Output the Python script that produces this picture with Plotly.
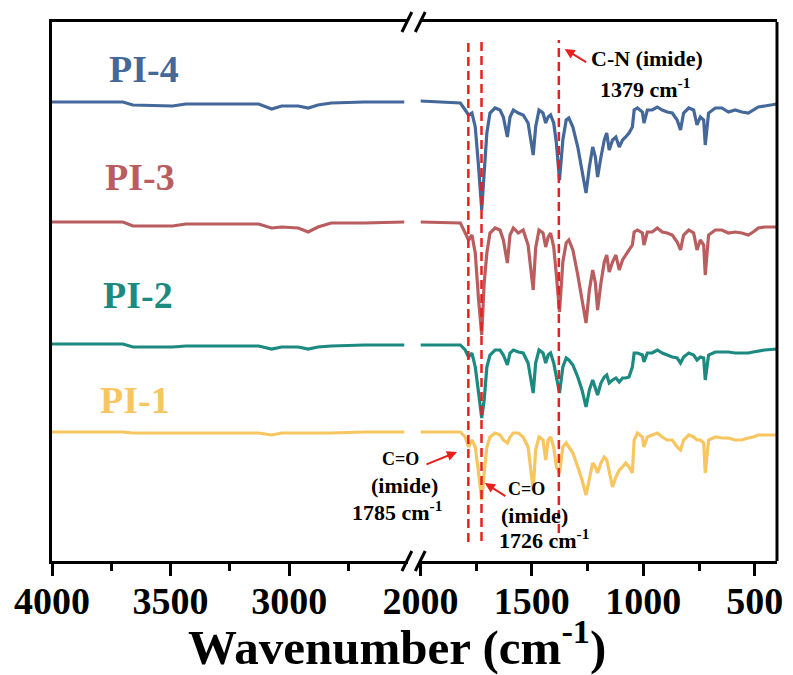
import plotly.graph_objects as go

# ---------------- data ----------------
# high-wavenumber window (left panel, cm^-1)
WN_HIGH = [4000, 3701, 3659, 3492, 3436, 3129, 3074, 3032, 2962, 2920, 2879, 2823, 2683, 2544, 2515]
PI4_HIGH = [459, 459, 456, 455, 457, 457, 452, 455, 455, 453, 456, 458, 459, 459, 459]
PI3_HIGH = [339, 339, 335, 335, 337, 337, 333, 334, 333, 329, 334, 338, 338, 339, 339]
PI2_HIGH = [217, 217, 214, 214, 215, 215, 212, 214, 214, 212, 214, 215, 216, 216, 216]
PI1_HIGH = [129, 129, 128, 128, 128, 128, 126, 128, 128, 128, 128, 128, 129, 129, 129]

# fingerprint window (right panel, cm^-1)
WN_LOW = [2000, 1821, 1799, 1784, 1769, 1754, 1739, 1725, 1714, 1702,
          1688, 1665, 1643, 1628, 1610, 1598, 1583, 1561, 1539, 1517,
          1494, 1483, 1468, 1450, 1438, 1427, 1416, 1402, 1390, 1376,
          1361, 1346, 1334, 1316, 1294, 1275, 1257, 1242, 1227, 1215,
          1205, 1190, 1175, 1164, 1153, 1138, 1123, 1108, 1093, 1079,
          1064, 1049, 1041, 1026, 1004, 997, 982, 960, 937, 915,
          893, 870, 848, 833, 819, 796, 774, 759, 744, 729,
          722, 707, 677, 647, 618, 588, 558, 529, 507, 484,
          455, 400]
PI4_LOW = [460, 458, 451, 446, 448, 434, 394, 351, 388, 428,
           448, 453, 451, 444, 424, 444, 451, 448, 446, 438,
           406, 434, 451, 448, 438, 444, 446, 438, 418, 381,
           421, 441, 443, 434, 414, 391, 368, 394, 414, 404,
           384, 404, 421, 428, 411, 421, 424, 414, 421, 424,
           428, 434, 451, 453, 449, 438, 451, 451, 454, 451,
           449, 448, 441, 431, 448, 453, 451, 436, 444, 441,
           416, 448, 453, 453, 449, 451, 449, 448, 451, 454,
           455, 457]
PI3_LOW = [339, 338, 328, 321, 326, 308, 261, 226, 278, 308,
           328, 333, 331, 321, 298, 326, 333, 328, 331, 316,
           271, 313, 331, 328, 314, 324, 328, 314, 286, 249,
           299, 318, 321, 311, 286, 261, 238, 271, 291, 278,
           251, 278, 299, 306, 289, 299, 306, 291, 301, 306,
           311, 316, 329, 331, 328, 316, 329, 329, 333, 329,
           328, 326, 319, 311, 326, 331, 328, 311, 321, 316,
           286, 326, 331, 331, 328, 329, 328, 326, 329, 333,
           334, 334]
PI2_LOW = [216, 216, 211, 204, 208, 194, 168, 143, 161, 194,
           206, 211, 211, 206, 196, 208, 211, 209, 208, 198,
           168, 198, 211, 208, 198, 206, 208, 198, 184, 168,
           194, 203, 201, 196, 184, 171, 154, 171, 181, 174,
           166, 178, 184, 186, 178, 181, 183, 179, 183, 183,
           184, 194, 208, 208, 206, 199, 208, 208, 211, 208,
           206, 204, 203, 198, 204, 208, 206, 201, 204, 203,
           181, 206, 209, 209, 209, 208, 208, 208, 209, 210,
           211, 212]
PI1_LOW = [129, 129, 124, 114, 121, 114, 88, 61, 88, 114,
           124, 128, 126, 121, 118, 124, 128, 128, 124, 114,
           71, 111, 124, 121, 101, 121, 124, 114, 94, 88,
           114, 118, 114, 108, 94, 81, 66, 81, 98, 94,
           88, 98, 104, 101, 88, 74, 84, 91, 94, 98,
           94, 88, 121, 128, 124, 114, 124, 126, 128, 124,
           121, 121, 114, 111, 121, 126, 124, 121, 121, 118,
           88, 121, 124, 123, 123, 121, 121, 123, 124, 126,
           126, 126]

SERIES = ["PI-4", "PI-3", "PI-2", "PI-1"]
COLORS = ["#45689A", "#B95D5F", "#1C8A80", "#F8C660"]

MARKER_WN = [1785, 1726, 1379]
MARKER_TOP = [520, 520, 521]
MARKER_BOTTOM = [19, 20, 28]

HIGH_TICKS = [4000, 3500, 3000]
HIGH_MINOR = [3750, 3250, 2750]
LOW_TICKS = [2000, 1500, 1000, 500]
LOW_MINOR = [1750, 1250, 750]

# ---------------- figure ----------------
SERIF = "Liberation Serif, Times New Roman, serif"
fig = go.Figure()

highs = [PI4_HIGH, PI3_HIGH, PI2_HIGH, PI1_HIGH]
lows = [PI4_LOW, PI3_LOW, PI2_LOW, PI1_LOW]
for name, col, hv, lv in zip(SERIES, COLORS, highs, lows):
    fig.add_trace(go.Scatter(x=WN_HIGH, y=hv, mode="lines", name=name,
                             line=dict(color=col, width=3.2), xaxis="x", yaxis="y"))
    fig.add_trace(go.Scatter(x=WN_LOW, y=lv, mode="lines", name=name, showlegend=False,
                             line=dict(color=col, width=3.2), xaxis="x2", yaxis="y"))

for wn, top, bot in zip(MARKER_WN, MARKER_TOP, MARKER_BOTTOM):
    fig.add_trace(go.Scatter(x=[wn, wn], y=[bot, top], mode="lines", showlegend=False,
                             line=dict(color="#E8201E", width=2.5, dash="9px,5px"),
                             xaxis="x2", yaxis="y"))

tickfont = dict(family=SERIF, size=38, color="black", weight="bold")
common = dict(showline=True, linewidth=3, linecolor="black", mirror=True,
              ticks="outside", ticklen=12, tickwidth=2.5, tickcolor="black",
              showgrid=False, zeroline=False, tickfont=tickfont, anchor="y",
              ticklabelstandoff=-8)

fig.update_layout(
    width=793, height=675,
    margin=dict(l=52, r=10, t=22, b=114),
    paper_bgcolor="white", plot_bgcolor="white",
    showlegend=False,
    xaxis=dict(domain=[0, 0.4908], range=[4000, 2500], tickvals=HIGH_TICKS,
               ticktext=[str(v) for v in HIGH_TICKS],
               minor=dict(tickvals=HIGH_MINOR, ticks="outside", ticklen=7,
                          tickwidth=2.5, tickcolor="black"), **common),
    xaxis2=dict(domain=[0.5082, 1], range=[2000, 400], tickvals=LOW_TICKS,
                ticktext=[str(v) for v in LOW_TICKS],
                minor=dict(tickvals=LOW_MINOR, ticks="outside", ticklen=7,
                           tickwidth=2.5, tickcolor="black"), **common),
    yaxis=dict(domain=[0, 1], range=[0, 539], showline=True, linewidth=3,
               linecolor="black", ticks="", showticklabels=False,
               showgrid=False, zeroline=False, anchor="x"),
)

# right frame border
fig.add_shape(type="line", xref="paper", yref="paper", x0=1, x1=1, y0=0, y1=1,
              line=dict(color="black", width=3))


# axis-break marks
def px2paper(x, y):
    return (x - 51.7) / 731.0, (561.0 - y) / 539.0


for cy in (22, 561):
    for cx in (409.5, 423.0):
        x0, y0 = px2paper(cx - 5, cy + 10)
        x1, y1 = px2paper(cx + 5, cy - 10)
        fig.add_shape(type="line", xref="paper", yref="paper", x0=x0, y0=y0, x1=x1, y1=y1,
                      line=dict(color="black", width=3))

# series labels
label_pos = [(144, 69), (140, 177), (138, 295), (135, 400)]
for name, col, (lx, ly) in zip(SERIES, COLORS, label_pos):
    xp, yp = px2paper(lx, ly)
    fig.add_annotation(x=xp, y=yp, xref="paper", yref="paper", text=name, showarrow=False,
                       font=dict(family=SERIF, size=38, color=col, weight="bold"),
                       xanchor="center", yanchor="middle")

# peak annotations
texts = [
    ("C-N (imide)", 652, 59, 22),
    ("1379 cm<sup>-1</sup>", 650, 88, 22),
    ("C=O", 403, 459, 18),
    ("(imide)", 407, 485, 22),
    ("1785 cm<sup>-1</sup>", 400, 511, 22),
    ("C=O", 530, 489, 18),
    ("(imide)", 538, 515, 22),
    ("1726 cm<sup>-1</sup>", 548, 539, 22),
]
for t, tx, ty, fs in texts:
    xp, yp = px2paper(tx, ty)
    fig.add_annotation(x=xp, y=yp, xref="paper", yref="paper", text=t, showarrow=False,
                       font=dict(family=SERIF, size=fs, color="black", weight="bold"),
                       xanchor="center", yanchor="middle")

# arrows (head in data coords, tail as pixel offset)
arrows = [(1353, 512, 23, 14), (1836, 109, -32, 13), (1711, 78, 22, 14)]
for ax_wn, ay_v, dx, dy in arrows:
    fig.add_annotation(x=ax_wn, y=ay_v, xref="x2", yref="y", ax=dx, ay=dy,
                       showarrow=True, arrowhead=2, arrowsize=1, arrowwidth=2,
                       arrowcolor="#E8201E", text="")

# axis title
xp, yp = px2paper(400, 643)
fig.add_annotation(x=xp, y=yp, xref="paper", yref="paper",
                   text="Wavenumber (cm<sup>-1</sup>)", showarrow=False,
                   font=dict(family=SERIF, size=49, color="black", weight="bold"),
                   xanchor="center", yanchor="middle")

fig.write_html("out.html", config={"displayModeBar": False},
               post_script="document.body.style.margin='0';document.body.style.overflow='hidden';")
